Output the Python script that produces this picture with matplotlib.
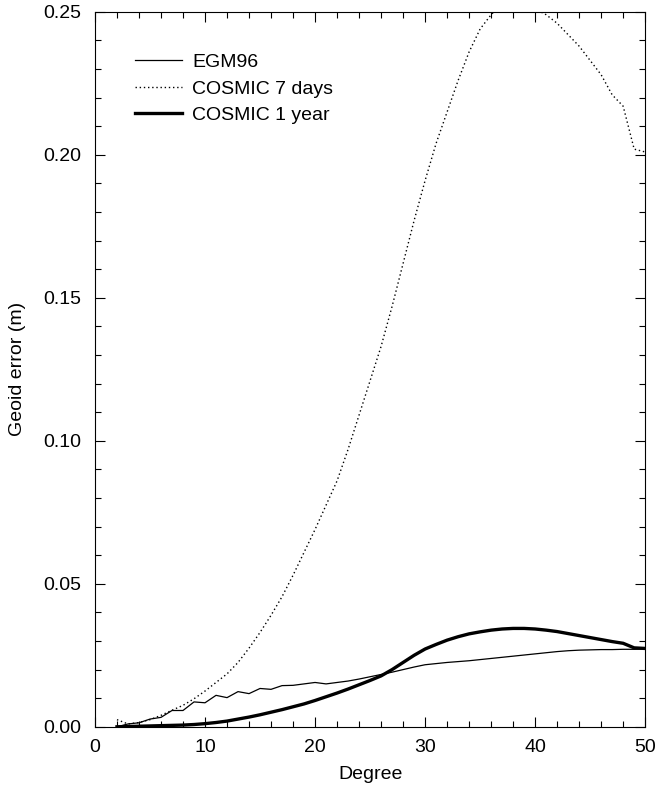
import matplotlib
matplotlib.use("Agg")
import matplotlib.pyplot as plt
from matplotlib.ticker import MultipleLocator

degree = list(range(2, 51))

egm96 = [0.0000, 0.0010, 0.0014, 0.0027, 0.0033, 0.0057, 0.0057, 0.0087, 0.0084,
         0.0110, 0.0102, 0.0123, 0.0116, 0.0134, 0.0131, 0.0144, 0.0145, 0.0150,
         0.0155, 0.0150, 0.0155, 0.0160, 0.0167, 0.0175, 0.0183, 0.0191, 0.0200,
         0.0209, 0.0217, 0.0221, 0.0225, 0.0228, 0.0231, 0.0235, 0.0239, 0.0243,
         0.0247, 0.0251, 0.0255, 0.0259, 0.0263, 0.0266, 0.0268, 0.0269, 0.0270,
         0.0270, 0.0271, 0.0271, 0.0272]

cosmic_7d = [0.0025, 0.0010, 0.0015, 0.0025, 0.0040, 0.0058, 0.0075, 0.0098, 0.0125,
             0.0155, 0.0185, 0.0225, 0.0275, 0.0330, 0.0390, 0.0455, 0.0530, 0.0610,
             0.0690, 0.0775, 0.0860, 0.0970, 0.1090, 0.1210, 0.1330, 0.1470, 0.1620,
             0.1770, 0.1910, 0.2040, 0.2150, 0.2260, 0.2360, 0.2440, 0.2490, 0.2530,
             0.2560, 0.2550, 0.2510, 0.2490, 0.2460, 0.2420, 0.2380, 0.2330, 0.2280,
             0.2210, 0.2170, 0.2020, 0.2010]

cosmic_1y = [0.0000, 0.0001, 0.0002, 0.0003, 0.0004, 0.0005, 0.0006, 0.0008, 0.0011,
             0.0015, 0.0020, 0.0027, 0.0034, 0.0042, 0.0051, 0.0060, 0.0070, 0.0080,
             0.0092, 0.0105, 0.0118, 0.0132, 0.0147, 0.0162, 0.0178, 0.0200, 0.0225,
             0.0250, 0.0272, 0.0288, 0.0303, 0.0315, 0.0325, 0.0332, 0.0338, 0.0342,
             0.0344, 0.0344, 0.0342, 0.0338, 0.0333, 0.0326, 0.0319, 0.0312, 0.0305,
             0.0298, 0.0292, 0.0276, 0.0274]

plt.rcParams['font.family'] = ['Liberation Sans', 'DejaVu Sans']
fs = 14

fig = plt.figure(figsize=(6.55, 7.9), dpi=100)
ax = fig.add_axes([0.145, 0.080, 0.840, 0.905])

ax.plot(degree, egm96, color='black', lw=0.9, label='EGM96')
ax.plot(degree, cosmic_7d, color='black', lw=1.0, linestyle=(0, (1, 2)), label='COSMIC 7 days')
ax.plot(degree, cosmic_1y, color='black', lw=2.4, label='COSMIC 1 year')

ax.set_xlim(0, 50)
ax.set_ylim(0, 0.25)
ax.xaxis.set_major_locator(MultipleLocator(10))
ax.xaxis.set_minor_locator(MultipleLocator(2))
ax.yaxis.set_major_locator(MultipleLocator(0.05))
ax.yaxis.set_minor_locator(MultipleLocator(0.01))
ax.set_yticks(ax.get_yticks())
ax.set_yticklabels([f"{v:.2f}" for v in ax.get_yticks()])
ax.set_ylim(0, 0.25)
ax.tick_params(which='both', direction='in', top=True, right=True, labelsize=fs)
ax.tick_params(which='major', length=7, width=0.8)
ax.tick_params(which='minor', length=4, width=0.8)
ax.tick_params(axis='y', which='major', pad=10)
ax.tick_params(axis='x', which='major', pad=9)
for s in ax.spines.values():
    s.set_linewidth(0.8)

ax.set_xlabel('Degree', fontsize=fs, labelpad=7)
ax.set_ylabel('Geoid error (m)', fontsize=fs, labelpad=12)

ax.legend(loc='upper left', bbox_to_anchor=(0.041, 0.966), frameon=False, fontsize=fs,
          handlelength=2.4, handletextpad=0.55, labelspacing=0.45)

fig.savefig('out.png', dpi=100)
